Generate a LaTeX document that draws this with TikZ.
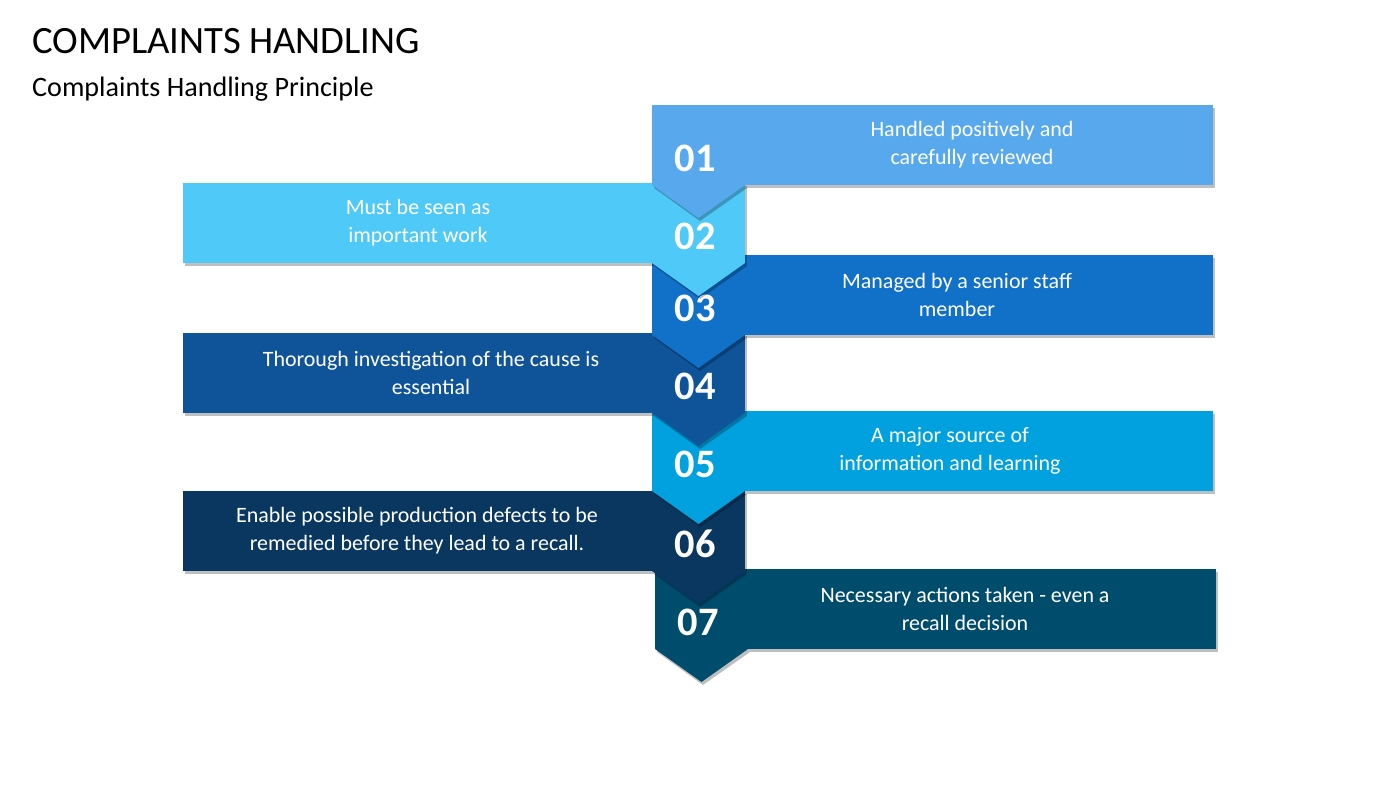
\documentclass[tikz,border=0pt]{standalone}
\usepackage{fontspec}
\setmainfont{Carlito}
\usetikzlibrary{positioning}
\definecolor{StepOne}{HTML}{58A8EE}
\definecolor{StepTwo}{HTML}{4FC9F7}
\definecolor{StepThree}{HTML}{1170C8}
\definecolor{StepFour}{HTML}{0F5499}
\definecolor{StepFive}{HTML}{00A1DE}
\definecolor{StepSix}{HTML}{09375F}
\definecolor{StepSeven}{HTML}{004C6D}
\tikzset{
  numtext/.style={text=white,font=\fontsize{23}{26}\selectfont\bfseries},
  bandtext/.style={text=white,align=center,font=\fontsize{12.5}{16}\selectfont},
}
% band: name, left x, right x, top y, colour, number, text, text x, column x
\newcommand{\band}[9]{%
  \fill[black,opacity=0.25] (#2+2,-#4-3) rectangle (#3+2,-#4-83);
  \fill[black,opacity=0.25] (#9+2,-#4-83) -- (#9+48,-#4-116) -- (#9+95,-#4-83) -- cycle;
  \fill[#5] (#2,-#4) rectangle (#3,-#4-80);
  \fill[#5] (#9,-#4-80) -- (#9+46.5,-#4-113) -- (#9+93,-#4-80) -- cycle;
  \node[numtext] (#1num) at (#9+43,-#4-53) {#6};
  \node[bandtext] (#1txt) at (#8,-#4-40) {#7};
}
\begin{document}
\begin{tikzpicture}[x=0.02cm,y=0.02cm]
  \useasboundingbox (0,0) rectangle (1400,-788);
  \node[anchor=base west,font=\fontsize{22}{26}\selectfont] (title) at (26,-53) {COMPLAINTS HANDLING};
  \node[anchor=base west,font=\fontsize{16}{20}\selectfont] (subtitle) at (26,-96) {Complaints Handling Principle};

  \band{seven}{655}{1216}{569}{StepSeven}{07}{Necessary actions taken - even a\\recall decision}{965}{655}
  \band{six}{183}{745}{491}{StepSix}{06}{Enable possible production defects to be\\remedied before they lead to a recall.}{417}{652}
  \band{five}{652}{1213}{411}{StepFive}{05}{A major source of\\information and learning}{950}{652}
  \band{four}{183}{745}{333}{StepFour}{04}{Thorough investigation of the cause is\\essential}{431}{652}
  \band{three}{652}{1213}{255}{StepThree}{03}{Managed by a senior staff\\member}{957}{652}
  \band{two}{183}{745}{183}{StepTwo}{02}{Must be seen as\\important work}{418}{652}
  \band{one}{652}{1213}{105}{StepOne}{01}{Handled positively and\\carefully reviewed}{972}{652}
\end{tikzpicture}
\end{document}
